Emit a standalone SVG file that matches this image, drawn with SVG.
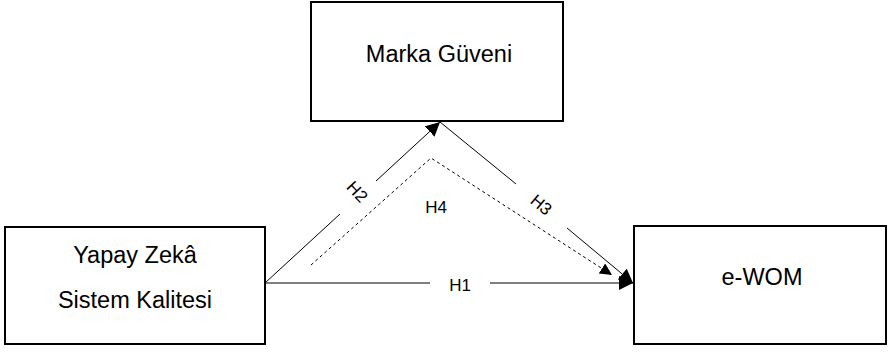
<svg xmlns="http://www.w3.org/2000/svg" width="891" height="352" viewBox="0 0 891 352">
<defs>
<style>
.box{fill:#fff;stroke:#000;stroke-width:2}
.t{font-family:"Liberation Sans",Arial,sans-serif;font-size:23.5px;fill:#000;text-anchor:middle}
.l{font-family:"Liberation Sans",Arial,sans-serif;font-size:17px;fill:#000;text-anchor:middle;dominant-baseline:central}
.c{fill:none;stroke:#000;stroke-width:1}
.d{fill:none;stroke:#000;stroke-width:1;stroke-dasharray:3,3}
</style>
<marker id="ah" viewBox="0 0 10 10" refX="10" refY="5" markerWidth="14" markerHeight="14" markerUnits="userSpaceOnUse" orient="auto">
<path d="M0,0 L10,5 L0,10 Z" fill="#000"/>
</marker>
<marker id="ahs" viewBox="0 0 10 10" refX="10" refY="5" markerWidth="12" markerHeight="12" markerUnits="userSpaceOnUse" orient="auto">
<path d="M0,0 L10,5 L0,10 Z" fill="#000"/>
</marker>
</defs>
<rect width="891" height="352" fill="#fff"/>
<g id="marka">
<rect class="box" x="311" y="2" width="252" height="119"/>
<text class="t" x="439" y="62">Marka Güveni</text>
</g>
<g id="yapay">
<rect class="box" x="5" y="227" width="260" height="117"/>
<text class="t" x="135" y="263">Yapay Zekâ</text>
<text class="t" x="135" y="308">Sistem Kalitesi</text>
</g>
<g id="ewom">
<rect class="box" x="634" y="226" width="252" height="118"/>
<text class="t" x="762" y="285">e-WOM</text>
</g>
<g id="connectors">
<path class="c" d="M265,283 L340,214"/>
<path class="c" d="M376,181 L440,122" marker-end="url(#ah)"/>
<path class="c" d="M440,122 L516,184"/>
<path class="c" d="M567,228 L633,283" marker-end="url(#ah)"/>
<path class="c" d="M265,283 L430,283"/>
<path class="c" d="M490,283 L633,283" marker-end="url(#ah)"/>
<path class="d" d="M311,265 L431,158 L612,275" marker-end="url(#ahs)"/>
<text class="l" x="357" y="192" transform="rotate(47 357 192)">H2</text>
<text class="l" x="541" y="205" transform="rotate(40 541 205)">H3</text>
<text class="l" x="460" y="285">H1</text>
<text class="l" x="436" y="207">H4</text>
</g>
</svg>
